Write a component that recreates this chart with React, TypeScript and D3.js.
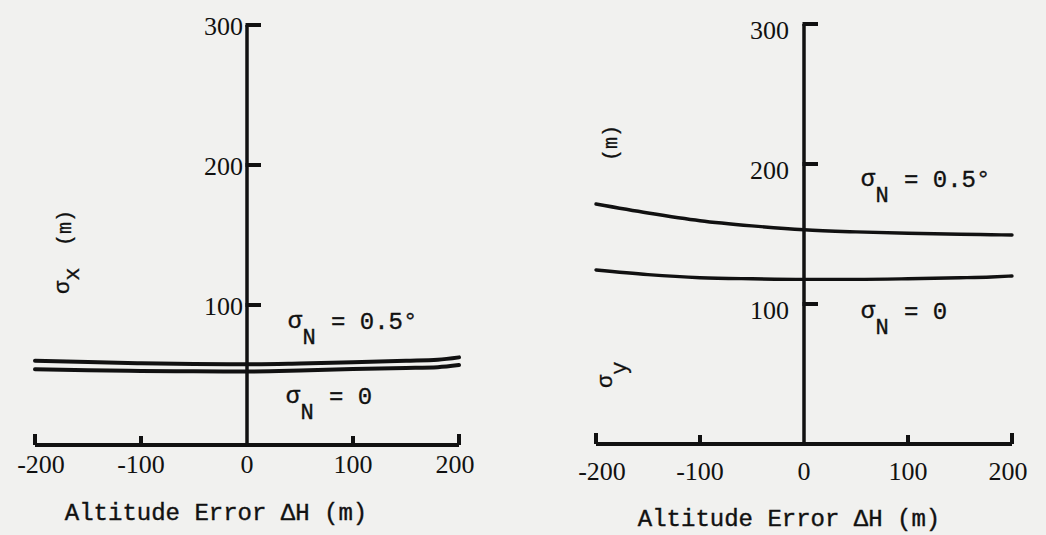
import React from "react";
import * as d3 from "d3";

const altitude = [-200, -150, -100, -50, 0, 50, 100, 150, 180, 200];
const sigmaXHalfDeg = [60.2, 59.2, 58.4, 57.8, 57.6, 58.2, 59.1, 60.2, 60.9, 62.6];
const sigmaXZero = [54.1, 53.4, 52.9, 52.6, 52.5, 53.2, 54.3, 55.0, 55.6, 57.1];
const sigmaYHalfDeg = [171.4, 165.0, 159.5, 155.8, 153.0, 151.5, 150.5, 149.8, 149.5, 149.3];
const sigmaYZero = [124.3, 121.0, 118.8, 118.0, 117.6, 117.6, 118.0, 118.7, 119.3, 120.0];
const xTicks = [-200, -100, 0, 100, 200];
const yTicks = [100, 200, 300];
const xTitle = "Altitude Error ΔH (m)";

const INK = "#111";
const MONO = "'Liberation Mono', 'DejaVu Sans Mono', monospace";
const SERIF = "'Liberation Serif', 'DejaVu Serif', serif";

type PanelProps = {
  xRange: [number, number];
  yRange: [number, number];
  upper: number[];
  lower: number[];
  lineWidth: number;
  xLabelDy: number;
  yLabelDx: number;
  yLabelDy: number;
  titleX: number;
  titleY: number;
  upperLabel: [number, number];
  lowerLabel: [number, number];
  sub: string;
  subDy: number;
  yTitle: { sx: number; sy: number; mx: number; my: number };
};

function SigmaLabel({ x, y, rest }: { x: number; y: number; rest: string }) {
  return (
    <g fill={INK} fontFamily={MONO} stroke={INK} strokeWidth={0.35}>
      <text x={x} y={y} fontSize={24} textAnchor="middle">σ</text>
      <text x={x + 14} y={y + 16} fontSize={22} textAnchor="middle">N</text>
      <text x={x + 36} y={y + 1} fontSize={24}>{rest}</text>
    </g>
  );
}

function Panel(p: PanelProps) {
  const x = d3.scaleLinear().domain([-200, 200]).range(p.xRange);
  const y = d3.scaleLinear().domain([0, 300]).range(p.yRange);
  const line = d3
    .line<number>()
    .x((_, i) => x(altitude[i]))
    .y((d) => y(d))
    .curve(d3.curveMonotoneX);
  const ax = x(0);
  const base = y(0);
  return (
    <g>
      <path d={line(p.upper) || ""} fill="none" stroke={INK} strokeWidth={p.lineWidth} strokeLinecap="round" />
      <path d={line(p.lower) || ""} fill="none" stroke={INK} strokeWidth={p.lineWidth} strokeLinecap="round" />
      <line x1={x(-200)} x2={x(200)} y1={base} y2={base} stroke={INK} strokeWidth={4} />
      {xTicks.filter((t) => t !== 0).map((t) => (
        <line key={t} x1={x(t)} x2={x(t)} y1={base} y2={base - (Math.abs(t) === 200 ? 11 : 9)} stroke={INK} strokeWidth={4} />
      ))}
      {xTicks.map((t) => (
        <text key={t} x={x(t) + (t === -200 ? 6 : t === 200 ? -4 : 0)} y={base + p.xLabelDy} fontFamily={SERIF} fontSize={26} textAnchor="middle" fill={INK}>
          {String(t)}
        </text>
      ))}
      <line x1={ax} x2={ax} y1={base} y2={y(300)} stroke={INK} strokeWidth={3.5} />
      {yTicks.map((t) => (
        <line key={t} x1={ax - 1.5} x2={ax + 14} y1={y(t)} y2={y(t)} stroke={INK} strokeWidth={4} />
      ))}
      {yTicks.map((t) => (
        <text key={t} x={ax + p.yLabelDx} y={y(t) + p.yLabelDy} fontFamily={SERIF} fontSize={26} textAnchor="end" fill={INK}>
          {String(t)}
        </text>
      ))}
      <SigmaLabel x={p.upperLabel[0]} y={p.upperLabel[1]} rest="= 0.5°" />
      <SigmaLabel x={p.lowerLabel[0]} y={p.lowerLabel[1]} rest="= 0" />
      <text
        transform={`translate(${p.yTitle.sx},${p.yTitle.sy}) rotate(-90)`}
        fontFamily={MONO}
        fontSize={22}
        fill={INK}
        stroke={INK}
        strokeWidth={0.3}
      >
        σ<tspan dy={p.subDy}>{p.sub}</tspan>
      </text>
      <text
        transform={`translate(${p.yTitle.mx},${p.yTitle.my}) rotate(-90)`}
        fontFamily={MONO}
        fontSize={20}
        fill={INK}
        stroke={INK}
        strokeWidth={0.3}
      >
        (m)
      </text>
      <text x={p.titleX} y={p.titleY} fontFamily={MONO} fontSize={24} textAnchor="middle" fill={INK} stroke={INK} strokeWidth={0.4}>
        {xTitle}
      </text>
    </g>
  );
}

export default function App() {
  return (
    <svg
      width={1046}
      height={535}
      style={{ position: "absolute", left: 0, top: 0, background: "#f1f1ef" }}
    >
      <rect width={1046} height={535} fill="#f1f1ef" />
      <Panel
        xRange={[35, 459]}
        yRange={[445, 25]}
        upper={sigmaXHalfDeg}
        lower={sigmaXZero}
        lineWidth={4}
        xLabelDy={28}
        yLabelDx={-4}
        yLabelDy={10}
        titleX={216}
        titleY={520}
        upperLabel={[295, 328]}
        lowerLabel={[293, 403]}
        sub="x"
        subDy={10}
        yTitle={{ sx: 69, sy: 294, mx: 71, my: 246 }}
      />
      <Panel
        xRange={[596, 1012]}
        yRange={[444, 24]}
        upper={sigmaYHalfDeg}
        lower={sigmaYZero}
        lineWidth={3.4}
        xLabelDy={36}
        yLabelDx={-15}
        yLabelDy={15}
        titleX={789}
        titleY={526}
        upperLabel={[868, 186]}
        lowerLabel={[868, 318]}
        sub="y"
        subDy={14}
        yTitle={{ sx: 612, sy: 388, mx: 617, my: 161 }}
      />
    </svg>
  );
}
